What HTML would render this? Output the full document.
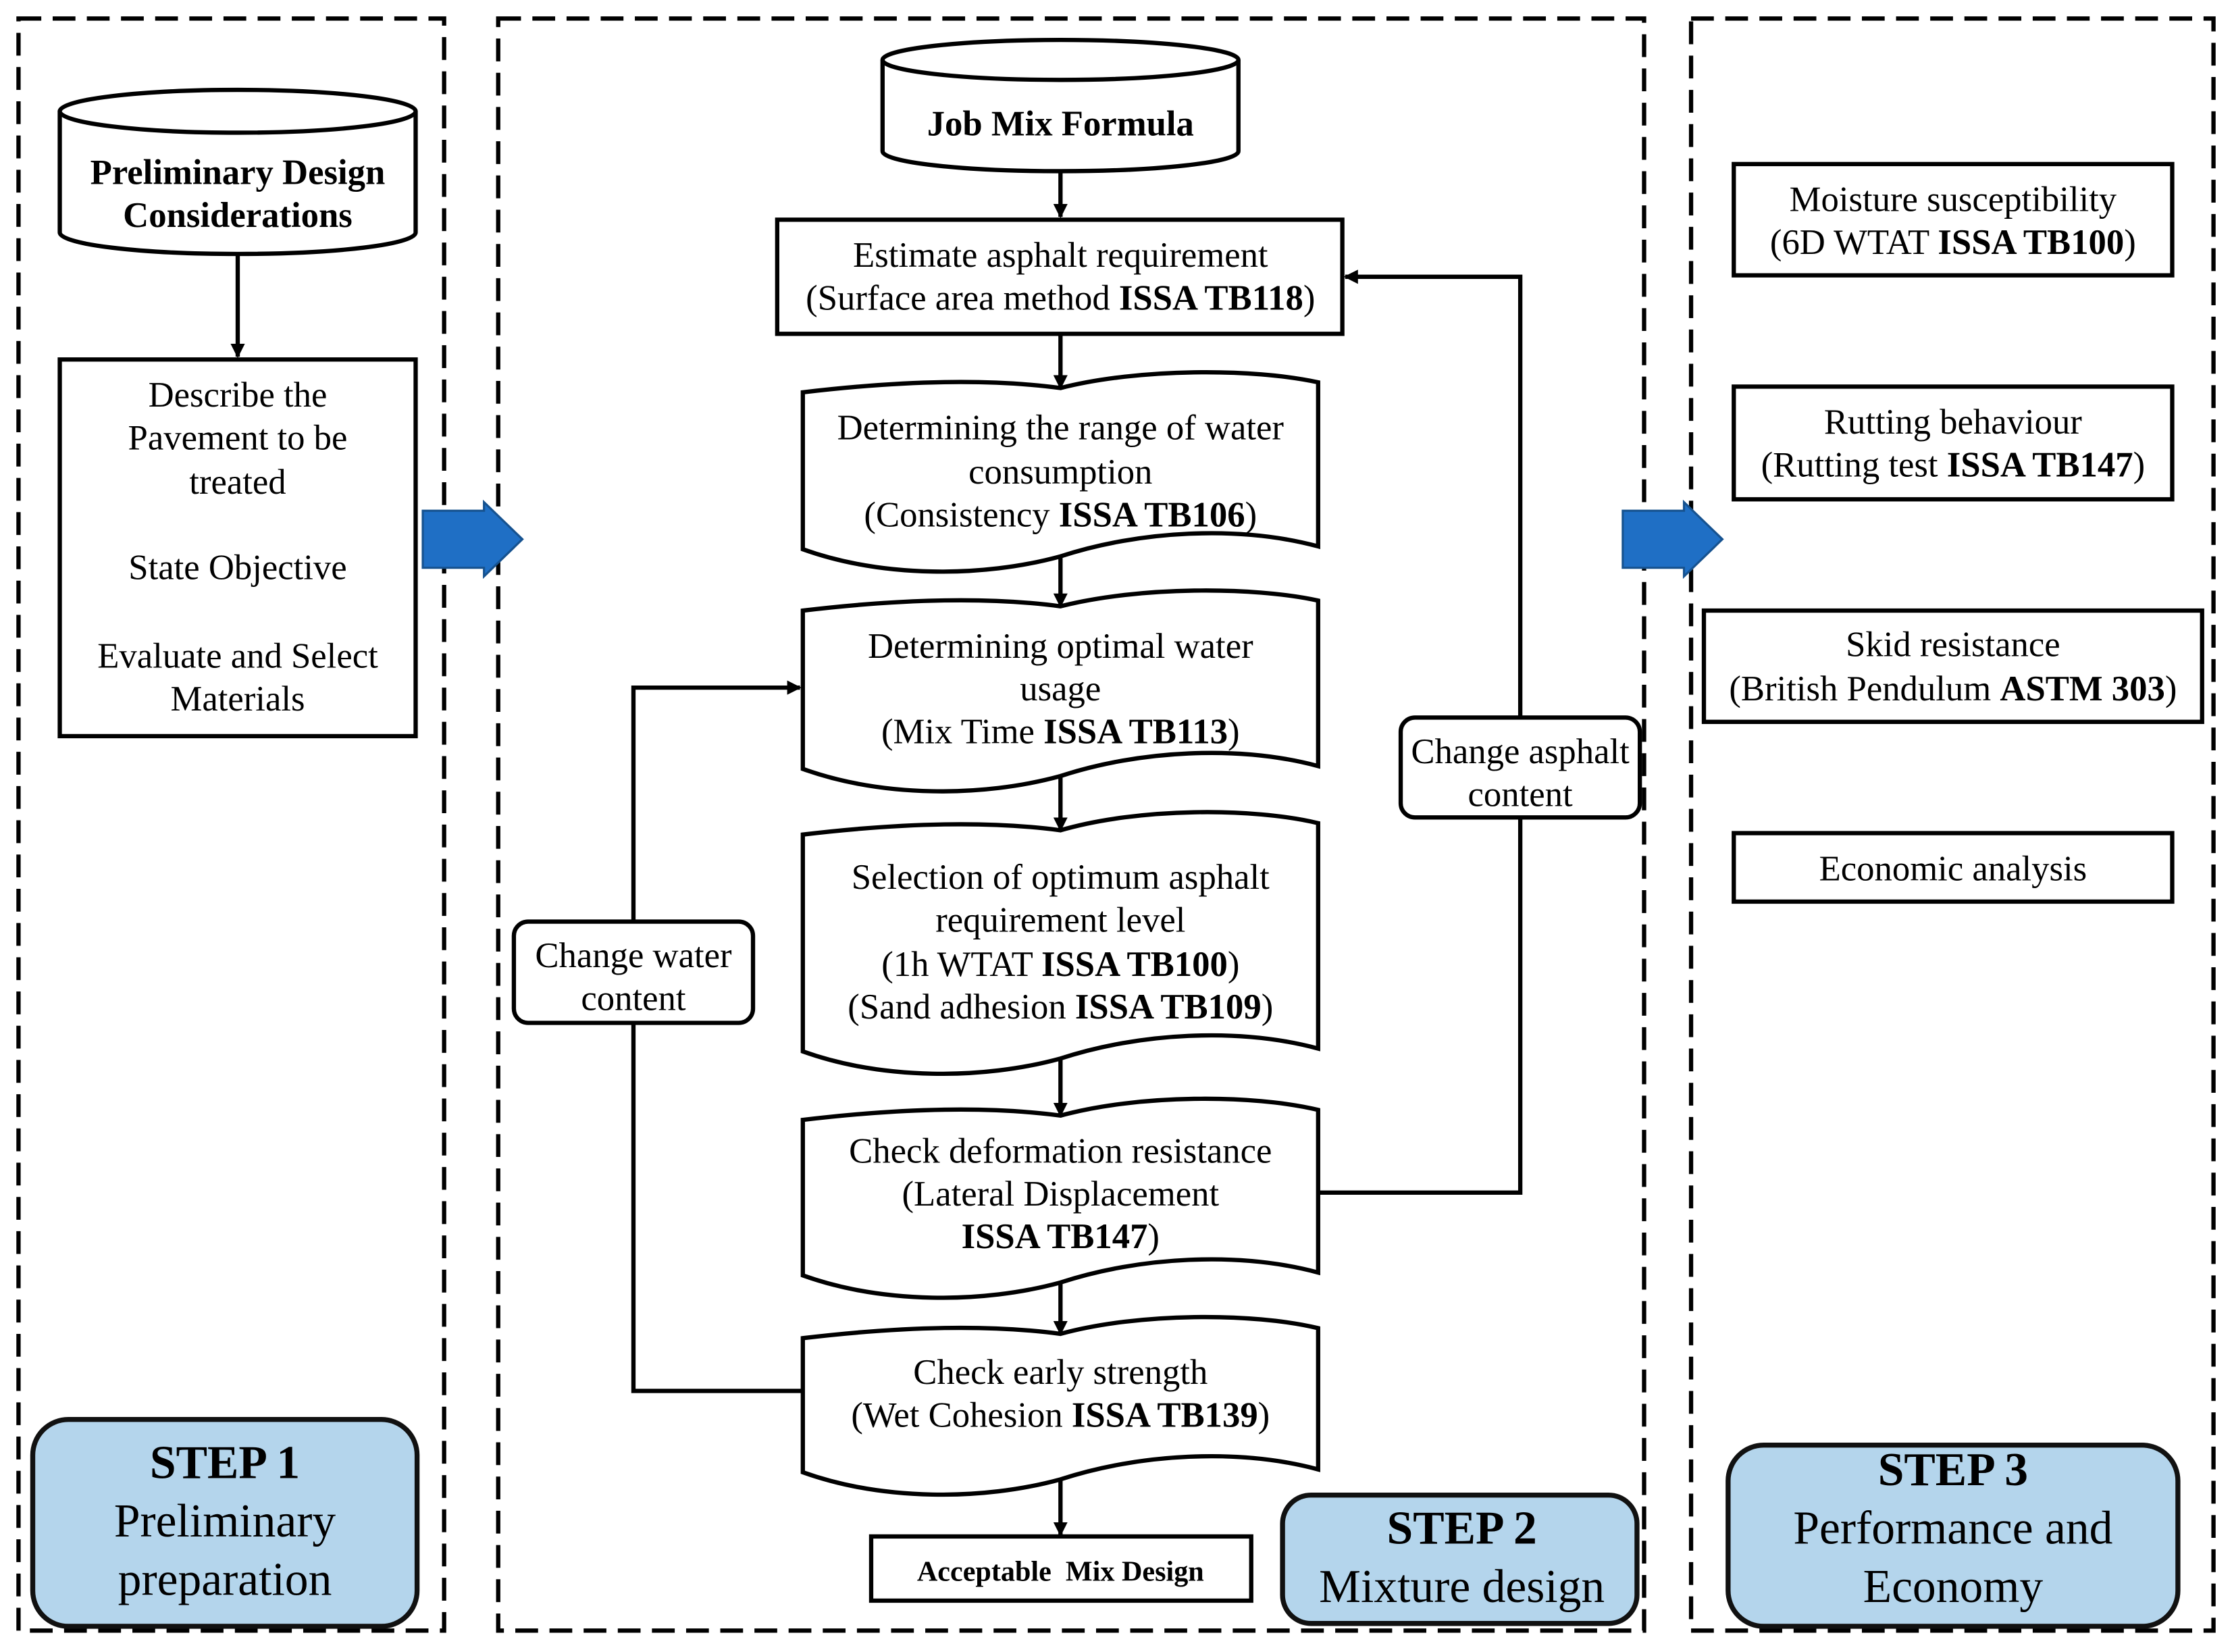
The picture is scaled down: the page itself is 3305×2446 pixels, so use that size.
<!DOCTYPE html>
<html><head><meta charset="utf-8"><style>
html,body{margin:0;padding:0;background:#fff;}
svg{display:block;}
text{font-family:"Liberation Serif",serif;fill:#000;}
</style></head><body>
<svg width="3305" height="2446" viewBox="0 0 1568 1158" preserveAspectRatio="none" xmlns="http://www.w3.org/2000/svg">
<defs>
<marker id="ah" markerWidth="10" markerHeight="10" refX="9" refY="5" orient="auto" markerUnits="userSpaceOnUse">
<path d="M0,0 L10,5 L0,10 z" fill="#000"/></marker>
</defs>
<g fill="none" stroke="#000" stroke-width="3" stroke-dasharray="16,8">
<rect x="13" y="13" width="299" height="1130"/>
<rect x="350" y="13" width="805" height="1130"/>
<rect x="1188" y="13" width="367" height="1130"/>
</g>
<g stroke="#000" stroke-width="3" fill="#fff">
<path d="M42,78 L42,163 A125,15 0 0 0 292,163 L292,78"/>
<ellipse cx="167" cy="78" rx="125" ry="15"/>
<rect x="42" y="252" width="250" height="264"/>
<path d="M620,42 L620,106 A125,14 0 0 0 870,106 L870,42"/>
<ellipse cx="745" cy="42" rx="125" ry="14"/>
<rect x="546" y="154" width="397" height="80"/>
<path d="M564,275 C640,266 700,266 745,272 C800,258 880,258 926,268 L926,383 C870,368 800,372 745,390 C690,405 620,405 564,385 Z"/>
<path d="M564,428 C640,419 700,419 745,425 C800,411 880,411 926,421 L926,537 C870,522 800,526 745,544 C690,559 620,559 564,539 Z"/>
<path d="M564,585 C640,576 700,576 745,582 C800,566 880,566 926,577 L926,735 C870,720 800,724 745,742 C690,757 620,757 564,737 Z"/>
<path d="M564,785 C640,776 700,776 745,782 C800,767 880,767 926,778 L926,892 C870,877 800,881 745,899 C690,914 620,914 564,894 Z"/>
<path d="M564,938 C640,929 700,929 745,935 C800,920 880,920 926,931 L926,1030 C870,1015 800,1019 745,1037 C690,1052 620,1052 564,1032 Z"/>
<rect x="612" y="1077" width="267" height="45"/>
<rect x="361" y="646" width="168" height="71" rx="10"/>
<rect x="984" y="503" width="168" height="70" rx="10"/>
<rect x="1218" y="115" width="308" height="78"/>
<rect x="1218" y="271" width="308" height="79"/>
<rect x="1197" y="428" width="350" height="78"/>
<rect x="1218" y="584" width="308" height="48"/>
</g>
<g stroke="#111" stroke-width="3.5" fill="#b4d5ec">
<rect x="23" y="995" width="270" height="145" rx="25"/>
<rect x="901" y="1048" width="249" height="90" rx="20"/>
<rect x="1214" y="1013" width="316" height="127" rx="25"/>
</g>
<g fill="#1f6fc5" stroke="#16528f" stroke-width="1.5">
<path d="M297,358 L340,358 L340,352 L367,378 L340,404 L340,398 L297,398 Z"/>
<path d="M1140,358 L1183,358 L1183,352 L1210,378 L1183,404 L1183,398 L1140,398 Z"/>
</g>
<g stroke="#000" stroke-width="3" fill="none" marker-end="url(#ah)">
<line x1="167" y1="178" x2="167" y2="250"/>
<line x1="745" y1="120" x2="745" y2="152"/>
<line x1="745" y1="234" x2="745" y2="272"/>
<line x1="745" y1="390" x2="745" y2="425"/>
<line x1="745" y1="544" x2="745" y2="582"/>
<line x1="745" y1="742" x2="745" y2="782"/>
<line x1="745" y1="899" x2="745" y2="935"/>
<line x1="745" y1="1037" x2="745" y2="1076"/>
<polyline points="445,646 445,482 562,482"/>
<polyline points="1068,503 1068,194 945,194"/>
</g>
<g stroke="#000" stroke-width="3" fill="none">
<polyline points="564,975 445,975 445,717"/>
<polyline points="926,836 1068,836 1068,573"/>
</g>
<g font-size="25" text-anchor="middle">
<text x="167" y="129" font-weight="bold">Preliminary Design</text>
<text x="167" y="159" font-weight="bold">Considerations</text>
<text x="167" y="285">Describe the</text>
<text x="167" y="315">Pavement to be</text>
<text x="167" y="346">treated</text>
<text x="167" y="406">State Objective</text>
<text x="167" y="468">Evaluate and Select</text>
<text x="167" y="498">Materials</text>
<text x="745" y="95" font-weight="bold">Job Mix Formula</text>
<text x="745" y="187">Estimate asphalt requirement</text>
<text x="745" y="217">(Surface area method <tspan font-weight="bold">ISSA TB118</tspan>)</text>
<text x="745" y="308">Determining the range of water</text>
<text x="745" y="339">consumption</text>
<text x="745" y="369">(Consistency <tspan font-weight="bold">ISSA TB106</tspan>)</text>
<text x="745" y="461">Determining optimal water</text>
<text x="745" y="491">usage</text>
<text x="745" y="521">(Mix Time <tspan font-weight="bold">ISSA TB113</tspan>)</text>
<text x="745" y="623">Selection of optimum asphalt</text>
<text x="745" y="653">requirement level</text>
<text x="745" y="684">(1h WTAT <tspan font-weight="bold">ISSA TB100</tspan>)</text>
<text x="745" y="714">(Sand adhesion <tspan font-weight="bold">ISSA TB109</tspan>)</text>
<text x="745" y="815">Check deformation resistance</text>
<text x="745" y="845">(Lateral Displacement</text>
<text x="745" y="875"><tspan font-weight="bold">ISSA TB147</tspan>)</text>
<text x="745" y="970">Check early strength</text>
<text x="745" y="1000">(Wet Cohesion <tspan font-weight="bold">ISSA TB139</tspan>)</text>
<text x="745" y="1108" font-size="20" font-weight="bold">Acceptable&#160; Mix Design</text>
<text x="445" y="678">Change water</text>
<text x="445" y="708">content</text>
<text x="1068" y="535">Change asphalt</text>
<text x="1068" y="565">content</text>
<text x="1372" y="148">Moisture susceptibility</text>
<text x="1372" y="178">(6D WTAT <tspan font-weight="bold">ISSA TB100</tspan>)</text>
<text x="1372" y="304">Rutting behaviour</text>
<text x="1372" y="334">(Rutting test <tspan font-weight="bold">ISSA TB147</tspan>)</text>
<text x="1372" y="460">Skid resistance</text>
<text x="1372" y="491">(British Pendulum <tspan font-weight="bold">ASTM 303</tspan>)</text>
<text x="1372" y="617">Economic analysis</text>
</g>
<g font-size="33" text-anchor="middle">
<text x="158" y="1036" font-weight="bold">STEP 1</text>
<text x="158" y="1077">Preliminary</text>
<text x="158" y="1118">preparation</text>
<text x="1027" y="1082" font-weight="bold">STEP 2</text>
<text x="1027" y="1123">Mixture design</text>
<text x="1372" y="1041" font-weight="bold">STEP 3</text>
<text x="1372" y="1082">Performance and</text>
<text x="1372" y="1123">Economy</text>
</g>
</svg>
</body></html>
